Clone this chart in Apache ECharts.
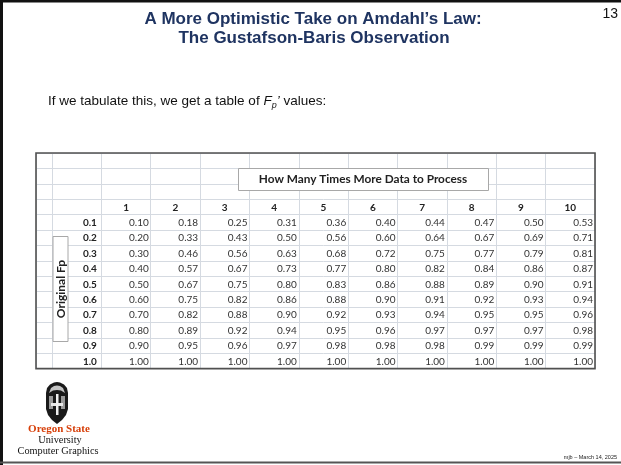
<!DOCTYPE html>
<html>
<head>
<meta charset="utf-8">
<script src="https://cdn.jsdelivr.net/npm/echarts@6/dist/echarts.min.js"></script>
<style>
html,body{margin:0;padding:0;background:#fff;}
#chart{width:621px;height:465px;}
</style>
</head>
<body>
<div id="chart"></div>
<script>
// ---- data ----
const titleLines = ["A More Optimistic Take on Amdahl\u2019s Law:", "The Gustafson-Baris Observation"];
const colLabels = ["1","2","3","4","5","6","7","8","9","10"];
const rowLabels = ["0.1","0.2","0.3","0.4","0.5","0.6","0.7","0.8","0.9","1.0"];
const row01 = [0.10,0.18,0.25,0.31,0.36,0.40,0.44,0.47,0.50,0.53];
const row02 = [0.20,0.33,0.43,0.50,0.56,0.60,0.64,0.67,0.69,0.71];
const row03 = [0.30,0.46,0.56,0.63,0.68,0.72,0.75,0.77,0.79,0.81];
const row04 = [0.40,0.57,0.67,0.73,0.77,0.80,0.82,0.84,0.86,0.87];
const row05 = [0.50,0.67,0.75,0.80,0.83,0.86,0.88,0.89,0.90,0.91];
const row06 = [0.60,0.75,0.82,0.86,0.88,0.90,0.91,0.92,0.93,0.94];
const row07 = [0.70,0.82,0.88,0.90,0.92,0.93,0.94,0.95,0.95,0.96];
const row08 = [0.80,0.89,0.92,0.94,0.95,0.96,0.97,0.97,0.97,0.98];
const row09 = [0.90,0.95,0.96,0.97,0.98,0.98,0.98,0.99,0.99,0.99];
const row10 = [1.00,1.00,1.00,1.00,1.00,1.00,1.00,1.00,1.00,1.00];
const tableRows = [row01,row02,row03,row04,row05,row06,row07,row08,row09,row10];
const columnTitle = "How Many Times More Data to Process";
const rowTitle = "Original Fp";

// ---- build ----
const blankRows = ["blank1","blank2","blank3","header"];
const yCats = blankRows.concat(rowLabels);
const xCats = ["label"].concat(colLabels);
const HDR = 3, FIRST = 4;

const valueData = [];
tableRows.forEach((row, r) => row.forEach((v, c) => valueData.push([c + 1, r + FIRST, v])));
const headerData = colLabels.map((l, i) => [i + 1, HDR]);
const rowHeadData = rowLabels.map((l, i) => [0, i + FIRST]);

const gridLine = {show: true, interval: 0, lineStyle: {color: '#d5dae1', width: 1}};
const TF = 'Lato, "Open Sans", sans-serif';

function catAxis(gridIndex, data, inverse) {
  return {type: 'category', gridIndex: gridIndex, data: data, inverse: inverse,
    splitLine: gridLine, axisLine: {show: false}, axisTick: {show: false}, axisLabel: {show: false}};
}

const chart = echarts.init(document.getElementById('chart'), null, {renderer: 'canvas'});
chart.setOption({
  animation: false,
  backgroundColor: '#ffffff',
  grid: [
    {left: 36, top: 153, width: 16, height: 215.6},
    {left: 52, top: 153, width: 543, height: 215.6}
  ],
  xAxis: [catAxis(0, [''], false), catAxis(1, xCats, false)],
  yAxis: [catAxis(0, yCats, true), catAxis(1, yCats, true)],
  series: [
    {
      type: 'custom', xAxisIndex: 1, yAxisIndex: 1, data: valueData,
      renderItem: function (params, api) {
        const p = api.coord([api.value(0), api.value(1)]);
        const s = api.size([1, 1]);
        return {type: 'text', x: p[0] + s[0] / 2 - 2, y: p[1] + 0.5,
          style: {text: api.value(2).toFixed(2), textAlign: 'right', textVerticalAlign: 'middle',
            font: '10px ' + TF, fill: '#333333'}};
      }
    },
    {
      type: 'custom', xAxisIndex: 1, yAxisIndex: 1, data: headerData,
      renderItem: function (params, api) {
        const p = api.coord([api.value(0), api.value(1)]);
        return {type: 'text', x: p[0], y: p[1] + 0.5,
          style: {text: colLabels[params.dataIndex], textAlign: 'center', textVerticalAlign: 'middle',
            font: 'bold 10px ' + TF, fill: '#222222'}};
      }
    },
    {
      type: 'custom', xAxisIndex: 1, yAxisIndex: 1, data: rowHeadData,
      renderItem: function (params, api) {
        const p = api.coord([api.value(0), api.value(1)]);
        const s = api.size([1, 1]);
        return {type: 'text', x: p[0] + s[0] / 2 - 4.5, y: p[1] + 0.5,
          style: {text: rowLabels[params.dataIndex], textAlign: 'right', textVerticalAlign: 'middle',
            font: 'bold 10px ' + TF, fill: '#222222'}};
      }
    }
  ],
  graphic: [
    // slide frame
    {type: 'rect', z: 100, shape: {x: 0, y: 0, width: 3, height: 465}, style: {fill: '#111'}},
    {type: 'rect', z: 100, shape: {x: 0, y: 0, width: 621, height: 2.5}, style: {fill: '#111'}},
    {type: 'rect', z: 100, shape: {x: 0, y: 461.5, width: 621, height: 2}, style: {fill: '#555'}},
    // title
    {type: 'text', z: 100, x: 313, y: 19, style: {text: titleLines[0], textAlign: 'center', textVerticalAlign: 'middle',
      font: 'bold 17px "Liberation Sans", Arial, sans-serif', fill: '#1f3461'}},
    {type: 'text', z: 100, x: 314, y: 38, style: {text: titleLines[1], textAlign: 'center', textVerticalAlign: 'middle',
      font: 'bold 17px "Liberation Sans", Arial, sans-serif', fill: '#1f3461'}},
    {type: 'text', z: 100, x: 618, y: 14, style: {text: '13', textAlign: 'right', textVerticalAlign: 'middle',
      font: '14px "Liberation Sans", Arial, sans-serif', fill: '#111'}},
    // intro text
    {type: 'text', z: 100, x: 48, y: 92, style: {
      text: 'If we tabulate this, we get a table of {i|F}{s|p}{i|\u2019} values:',
      font: '13.5px "Liberation Sans", Arial, sans-serif', fill: '#111', textVerticalAlign: 'top',
      rich: {
        i: {fontStyle: 'italic', fontSize: 13.5, fontFamily: '"Liberation Sans", Arial, sans-serif', fill: '#111', lineHeight: 18},
        s: {fontStyle: 'italic', fontSize: 9, fontFamily: '"Liberation Sans", Arial, sans-serif', fill: '#111', verticalAlign: 'bottom', lineHeight: 18}
      }}},
    // table outer border
    {type: 'rect', z: 100, shape: {x: 36, y: 153, width: 559, height: 215.6},
      style: {fill: 'none', stroke: '#505050', lineWidth: 1.6}},
    // column title box
    {type: 'rect', z: 100, shape: {x: 238.5, y: 168.5, width: 250, height: 22},
      style: {fill: '#fff', stroke: '#a8a8a8', lineWidth: 1}},
    {type: 'text', z: 101, x: 363, y: 179.5, style: {text: columnTitle, textAlign: 'center', textVerticalAlign: 'middle',
      font: 'bold 11.8px ' + TF, fill: '#222'}},
    // row title box
    {type: 'rect', z: 100, shape: {x: 53, y: 236.5, width: 15, height: 105},
      style: {fill: '#fff', stroke: '#a8a8a8', lineWidth: 1}},
    {type: 'text', z: 101, x: 61.5, y: 289, rotation: Math.PI / 2,
      style: {text: rowTitle, textAlign: 'center', textVerticalAlign: 'middle', font: 'bold 12px ' + TF, fill: '#222'}},
    // logo (simplified crest)
    {type: 'polygon', z: 100, shape: {points: [[46,393],[47,388],[50,384.5],[54,382.5],[57,382],[60,382.5],[64,384.5],[67,388],[68,393],[68,409],[66,415],[62,420],[57,424],[52,420],[48,415],[46,409]]},
      style: {fill: '#1a1a1a'}},
    {type: 'polygon', z: 101, shape: {points: [[49,393],[51,388],[54,386],[57,385.5],[60,386],[63,388],[65,393],[61,390.5],[57,390],[53,390.5]]},
      style: {fill: '#c4c4c4'}},
    {type: 'rect', z: 101, shape: {x: 49, y: 396, width: 4, height: 13}, style: {fill: '#9a9a9a'}},
    {type: 'rect', z: 101, shape: {x: 61, y: 396, width: 4, height: 13}, style: {fill: '#9a9a9a'}},
    {type: 'rect', z: 101, shape: {x: 51, y: 403, width: 12, height: 3}, style: {fill: '#e8e8e8'}},
    {type: 'rect', z: 101, shape: {x: 56, y: 394, width: 2.5, height: 21}, style: {fill: '#f0f0f0'}},
    {type: 'text', z: 100, x: 59, y: 429, style: {text: 'Oregon State', textAlign: 'center', textVerticalAlign: 'middle',
      font: 'bold 11px "Liberation Serif", "Times New Roman", serif', fill: '#d73f09'}},
    {type: 'text', z: 100, x: 60, y: 440, style: {text: 'University', textAlign: 'center', textVerticalAlign: 'middle',
      font: '10.3px "Liberation Serif", "Times New Roman", serif', fill: '#111'}},
    {type: 'text', z: 100, x: 58, y: 451, style: {text: 'Computer Graphics', textAlign: 'center', textVerticalAlign: 'middle',
      font: '10.3px "Liberation Serif", "Times New Roman", serif', fill: '#111'}},
    // footer
    {type: 'text', z: 100, x: 617, y: 457, style: {text: 'mjb \u2013 March 14, 2025', textAlign: 'right', textVerticalAlign: 'middle',
      font: '5.5px "Liberation Sans", Arial, sans-serif', fill: '#222'}}
  ]
});
</script>
</body>
</html>
